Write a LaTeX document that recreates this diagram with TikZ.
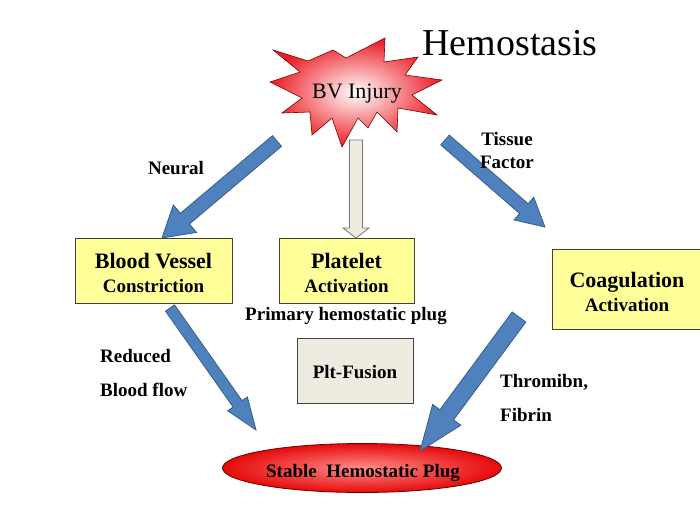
\documentclass[tikz,border=0pt]{standalone}
\usepackage{fontspec}
\setmainfont{Liberation Serif}
\usetikzlibrary{calc}
\usetikzlibrary{shapes.geometric}
\definecolor{arrowblue}{RGB}{79,129,189}
\definecolor{arrowline}{RGB}{56,93,138}
\definecolor{boxyellow}{RGB}{255,255,153}
\definecolor{boxtan}{RGB}{238,236,225}
\definecolor{starred}{RGB}{236,28,36}
\definecolor{plugred}{RGB}{230,10,10}
\definecolor{pluglight}{RGB}{255,140,140}
\tikzset{box/.style = {rectangle, draw=black!75, line width=0.8pt, fill=boxyellow, inner sep=0pt}}
\tikzset{bluearrow/.style = {fill=arrowblue, draw=arrowline, line width=0.8pt}}
\tikzset{grayarrow/.style = {fill=boxtan, draw=black!55, line width=0.8pt}}
\tikzset{big/.style = {font=\bfseries\fontsize{22}{26}\selectfont, anchor=base, inner sep=0pt}}
\tikzset{small/.style = {font=\bfseries\fontsize{19}{22}\selectfont, anchor=base, inner sep=0pt}}

\begin{document}
\begin{tikzpicture}[x=1pt, y=-1pt]
        \useasboundingbox (0,0) rectangle (700,525);

        % style, from, to, half shaft, half head, head length
        \newcommand{\blockarrow}[6]{%
            \coordinate (headbase) at ($(#3)!#6!(#2)$);
            \draw[#1] ($(#2)!#4!90:(#3)$) -- ($(headbase)!#4!90:(#3)$)
                -- ($(headbase)!#5!90:(#3)$) -- (#3)
                -- ($(headbase)!#5!-90:(#3)$) -- ($(headbase)!#4!-90:(#3)$)
                -- ($(#2)!#4!-90:(#3)$) -- cycle;
        }

        % Boxes
        \node[box, minimum width=157pt, minimum height=65pt] (vessel) at (153.5,270.5) {};
        \node[box, minimum width=135pt, minimum height=65pt] (platelet) at (346.5,270.5) {};
        \node[box, minimum width=150pt, minimum height=80pt] (coag) at (627,289) {};
        \node[box, fill=boxtan, minimum width=116pt, minimum height=65pt] (fusion) at (355,370.5) {};
        \node[ellipse, draw=black!60!red, line width=0.8pt, inner color=pluglight, outer color=plugred,
              minimum width=279pt, minimum height=49pt] (plug) at (362,468) {};

        % Arrow ends
        \coordinate (neuralfrom) at (277,141);
        \coordinate (neuralto) at (162,238);
        \coordinate (tissuefrom) at (445,140);
        \coordinate (tissueto) at (545,227);
        \coordinate (platfrom) at (356,140);
        \coordinate (platto) at (356,238);
        \coordinate (flowfrom) at (170,308);
        \coordinate (flowto) at (256,430);
        \coordinate (fibfrom) at (519,317);
        \coordinate (fibto) at (420,451);

        \blockarrow{bluearrow}{neuralfrom}{neuralto}{7pt}{18pt}{30pt}
        \blockarrow{bluearrow}{tissuefrom}{tissueto}{6.5pt}{15pt}{28pt}
        \blockarrow{grayarrow}{platfrom}{platto}{6.5pt}{13pt}{10pt}
        \blockarrow{bluearrow}{flowfrom}{flowto}{5.5pt}{12pt}{32pt}
        \blockarrow{bluearrow}{fibfrom}{fibto}{8.5pt}{17.5pt}{45pt}

        % Injury star
        \shadedraw[inner color=white, outer color=starred, draw=black!50!red, line width=0.6pt]
            (273,50) -- (308,61) -- (333,50) -- (346,58) -- (385,38) -- (384,62)
            -- (418,57) -- (405,75) -- (442,80) -- (412,95) -- (437,115) -- (398,108)
            -- (397,132) -- (377,112) -- (368,128) -- (358,118) -- (342,147) -- (332,118)
            -- (312,135) -- (310,112) -- (282,113) -- (302,98) -- (270,82) -- (300,72) -- cycle;
        \node[anchor=base, inner sep=0pt, font=\fontsize{22}{26}\selectfont] (injury) at (357,98.3) {BV Injury};

        % Texts
        \node[anchor=base, inner sep=0pt, font=\fontsize{38}{42}\selectfont] (title) at (510,55) {Hemostasis};
        \node[small] (neural) at (176,174) {Neural};
        \node[small] (tissue) at (507,145) {Tissue};
        \node[small] (factor) at (507,168) {Factor};
        \node[big] (vesselname) at (153.5,268) {Blood Vessel};
        \node[small] (constriction) at (153.5,292) {Constriction};
        \node[big] (plateletname) at (346.5,268) {Platelet};
        \node[small] (plateletact) at (346.5,292) {Activation};
        \node[big] (coagname) at (627,287) {Coagulation};
        \node[small] (coagact) at (627,311) {Activation};
        \node[small] (primary) at (346,320) {Primary hemostatic plug};
        \node[small, anchor=base west] (reduced) at (100,362) {Reduced};
        \node[small, anchor=base west] (bloodflow) at (100,396) {Blood flow};
        \node[small] (fusionname) at (355,378) {Plt-Fusion};
        \node[small, anchor=base west] (thrombin) at (500,387) {Thromibn,};
        \node[small, anchor=base west] (fibrin) at (500,421) {Fibrin};
        \node[small] (plugname) at (363,477) {Stable\ \ Hemostatic Plug};
    \end{tikzpicture}
\end{document}
